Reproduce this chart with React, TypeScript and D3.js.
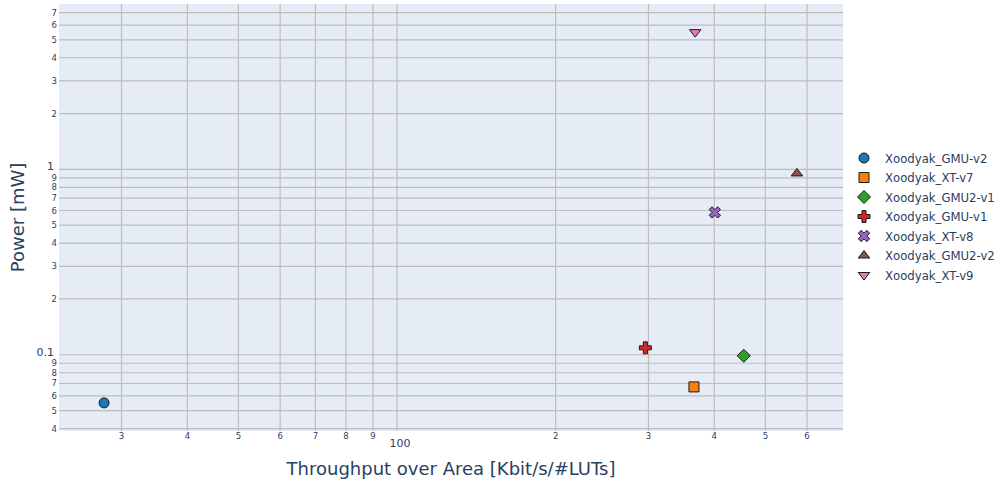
import React from "react";
import { scaleLog } from "d3";

const names = [
    "Xoodyak_GMU-v2",
    "Xoodyak_XT-v7",
    "Xoodyak_GMU2-v1",
    "Xoodyak_GMU-v1",
    "Xoodyak_XT-v8",
    "Xoodyak_GMU2-v2",
    "Xoodyak_XT-v9",
];
const throughputArea = [27.8, 366, 455, 296, 401, 574, 368];
const powerMw = [0.055, 0.0671, 0.0988, 0.109, 0.586, 0.951, 5.5];
const symbols = ["circle", "square", "diamond", "cross", "x", "triangle-up", "triangle-down"];
const colors = ["#1f77b4", "#ff7f0e", "#2ca02c", "#d62728", "#9467bd", "#8c564b", "#e377c2"];

const xTickValues = [30, 40, 50, 60, 70, 80, 90, 100, 200, 300, 400, 500, 600];
const xTickLabels = ["3", "4", "5", "6", "7", "8", "9", "100", "2", "3", "4", "5", "6"];
const yTickValues = [0.04, 0.05, 0.06, 0.07, 0.08, 0.09, 0.1, 0.2, 0.3, 0.4, 0.5, 0.6, 0.7, 0.8, 0.9, 1, 2, 3, 4, 5, 6, 7];
const yTickLabels = ["4", "5", "6", "7", "8", "9", "0.1", "2", "3", "4", "5", "6", "7", "8", "9", "1", "2", "3", "4", "5", "6", "7"];
const majorX = ["100"];
const majorY = ["0.1", "1"];

const W = 1008;
const H = 484;
const plot = { left: 59, right: 843, top: 4, bottom: 431 };
const fontFamily = "'DejaVu Sans', verdana, sans-serif";
const textColor = "#2a3f5f";

// plotly-like marker outlines, r = size / 2
const symbolPath = (name: string, r: number): string => {
    const f = (n: number) => n.toFixed(2);
    if (name === "square") {
        return `M${f(r)},${f(r)}H${f(-r)}V${f(-r)}H${f(r)}Z`;
    }
    if (name === "diamond") {
        const rd = r * 1.3;
        return `M${f(rd)},0L0,${f(rd)}L${f(-rd)},0L0,${f(-rd)}Z`;
    }
    if (name === "cross") {
        const a = r * 0.4;
        const b = r * 1.2;
        return `M${f(b)},${f(a)}H${f(a)}V${f(b)}H${f(-a)}V${f(a)}H${f(-b)}V${f(-a)}H${f(-a)}V${f(-b)}H${f(a)}V${f(-a)}H${f(b)}Z`;
    }
    if (name === "x") {
        const rx = (r * 0.8) / Math.SQRT2;
        const ne = `l${f(rx)},${f(rx)}`;
        const se = `l${f(rx)},${f(-rx)}`;
        const sw = `l${f(-rx)},${f(-rx)}`;
        const nw = `l${f(-rx)},${f(rx)}`;
        return `M0,${f(rx)}${ne}${se}${sw}${se}${sw}${nw}${sw}${nw}${ne}${nw}${ne}Z`;
    }
    if (name === "triangle-up") {
        const rt = (r * 2) / Math.sqrt(3);
        return `M${f(-rt)},${f(r / 2)}H${f(rt)}L0,${f(-r)}Z`;
    }
    if (name === "triangle-down") {
        const rt = (r * 2) / Math.sqrt(3);
        return `M${f(-rt)},${f(-r / 2)}H${f(rt)}L0,${f(r)}Z`;
    }
    return `M${f(r)},0A${f(r)},${f(r)} 0 1,1 0,${f(-r)}A${f(r)},${f(r)} 0 0,1 ${f(r)},0Z`;
};

const Marker = ({ name, color, x, y }: { name: string; color: string; x: number; y: number }) => (
    <path
        d={symbolPath(name, 5)}
        transform={`translate(${x},${y})`}
        fill={color}
        stroke="#1a1a1a"
        strokeWidth={1}
    />
);

export default function App(): JSX.Element {
    const x = scaleLog().domain([22.83, 702]).range([plot.left, plot.right]);
    const y = scaleLog().domain([0.0388, 7.8]).range([plot.bottom, plot.top]);

    return (
        <svg
            width={W}
            height={H}
            style={{ position: "absolute", left: 0, top: 0, background: "#fff" }}
            fontFamily={fontFamily}
        >
            <rect
                x={plot.left}
                y={plot.top}
                width={plot.right - plot.left}
                height={plot.bottom - plot.top}
                fill="#E5ECF6"
            />
            <g stroke="#bdbdbd" strokeWidth={1.2}>
                {xTickValues.map((v) => (
                    <line key={"gx" + v} x1={x(v)} x2={x(v)} y1={plot.top} y2={plot.bottom} />
                ))}
                {yTickValues.map((v) => (
                    <line key={"gy" + v} x1={plot.left} x2={plot.right} y1={y(v)} y2={y(v)} />
                ))}
            </g>
            <g fill={textColor}>
                {xTickValues.map((v, i) => {
                    const major = majorX.includes(xTickLabels[i]);
                    return (
                        <text
                            key={"tx" + v}
                            x={x(v) + (major ? 3 : 0)}
                            y={major ? 447 : 439}
                            fontSize={major ? 11 : 8.5}
                            textAnchor="middle"
                        >
                            {xTickLabels[i]}
                        </text>
                    );
                })}
                {yTickValues.map((v, i) => {
                    const major = majorY.includes(yTickLabels[i]);
                    return (
                        <text
                            key={"ty" + v}
                            x={major ? 54 : 57}
                            y={y(v) + (major ? 1 : 3)}
                            fontSize={major ? 11 : 8.5}
                            textAnchor="end"
                        >
                            {yTickLabels[i]}
                        </text>
                    );
                })}
            </g>
            <text
                x={(plot.left + plot.right) / 2}
                y={475}
                fontSize={18}
                fill={textColor}
                textAnchor="middle"
            >
                Throughput over Area [Kbit/s/#LUTs]
            </text>
            <text
                transform={`translate(24,${(plot.top + plot.bottom) / 2}) rotate(-90)`}
                fontSize={18}
                fill={textColor}
                textAnchor="middle"
            >
                Power [mW]
            </text>
            <g>
                {names.map((n, i) => (
                    <Marker key={n} name={symbols[i]} color={colors[i]} x={x(throughputArea[i])} y={y(powerMw[i])} />
                ))}
            </g>
            <g>
                {names.map((n, i) => (
                    <g key={"lg" + n} transform={`translate(0,${158 + i * 19.5})`}>
                        <Marker name={symbols[i]} color={colors[i]} x={864} y={0} />
                        <text x={885} y={4.5} fontSize={11.7} fill={textColor}>
                            {n}
                        </text>
                    </g>
                ))}
            </g>
        </svg>
    );
}
